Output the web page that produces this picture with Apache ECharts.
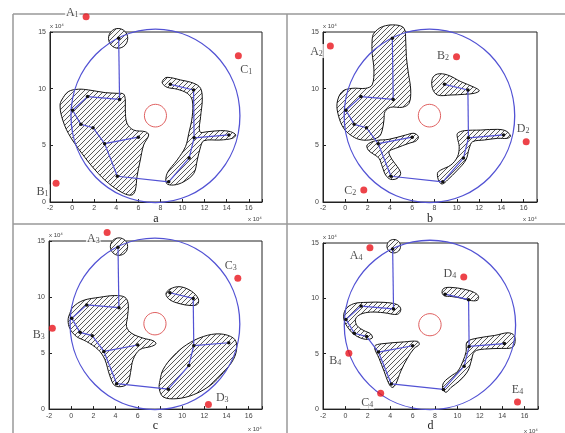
<!DOCTYPE html>
<html>
<head>
<meta charset="utf-8">
<script src="https://cdn.jsdelivr.net/npm/echarts@6/dist/echarts.min.js"></script>
<style>html,body{margin:0;padding:0;background:#fff}#main{width:565px;height:433px}</style>
</head>
<body>
<div id="main"></div>
<script>
// network nodes, same in all four panels
var nodes = [
    [4.22, 14.45], [4.3, 9.05], [1.4, 9.3], [0.05, 8.1], [0.8, 6.85], [1.9, 6.55],
    [2.95, 5.15], [6.0, 5.72], [4.1, 2.27], [8.75, 1.78], [10.6, 3.88], [11.05, 5.66],
    [14.2, 5.92], [8.9, 10.38], [11.0, 9.88]
];
var edges = [[0,1],[1,2],[2,3],[3,4],[4,5],[5,6],[6,7],[6,8],[8,9],[9,10],[10,11],[11,12],[11,14],[14,13]];
// big blue circle and small red circle : [cx, cy, r]
var bigCircle = [7.55, 7.6, 7.65];
var redCircle = [7.55, 7.62, 1.0];

// red points + names
var ptsA = [[1.27, 16.35], [-1.45, 1.65], [15.06, 12.9]];
var namesA = ['A1', 'B1', 'C1'];
var ptsB = [[-1.34, 13.76], [9.98, 12.82], [1.66, 1.06], [16.23, 5.32]];
var namesB = ['A2', 'B2', 'C2', 'D2'];
var ptsC = [[3.24, 15.76], [-1.7, 7.21], [15.02, 11.68], [12.37, 0.41]];
var namesC = ['A3', 'B3', 'C3', 'D3'];
var ptsD = [[2.19, 14.56], [0.31, 5.04], [3.15, 1.44], [10.57, 11.92], [15.37, 0.64]];
var namesD = ['A4', 'B4', 'C4', 'D4', 'E4'];

// hatched clusters (outlines)
var blobsA = [
    [[-0.94,9.0],[-0.34,9.74],[0.57,9.95],[1.48,9.89],[3.0,9.65],[4.06,9.59],[4.66,9.53],[4.82,9.0],[4.82,8.12],[4.97,6.95],[5.57,6.35],[6.64,6.2],[6.94,5.91],[6.48,5.03],[6.18,3.71],[5.88,2.23],[5.73,1.06],[5.43,0.62],[4.66,0.77],[3.3,1.65],[2.09,2.82],[0.88,4.3],[-0.34,6.06],[-0.94,7.53],[-1.09,8.56]],
    [[8.24,10.77],[8.61,11.0],[9.82,10.77],[11.03,10.47],[11.64,10.03],[11.79,9.0],[11.64,7.53],[11.57,6.2],[12.24,6.2],[13.45,6.3],[14.36,6.2],[14.82,5.91],[14.52,5.62],[13.45,5.47],[11.94,5.41],[11.64,4.88],[11.34,3.71],[11.03,2.53],[10.12,1.79],[9.21,1.5],[8.55,1.65],[8.61,2.53],[9.52,3.71],[10.27,4.88],[10.57,6.06],[10.88,7.53],[10.88,9.0],[10.43,9.59],[9.52,9.95],[8.61,10.12],[8.18,10.47]]
];
var ringsA = [[4.17, 14.44, 0.87]];
var blobsB = [
    [[2.57,14.89],[3.32,15.47],[4.52,15.62],[5.27,15.33],[5.42,14.3],[5.48,12.82],[5.66,11.36],[5.87,9.89],[5.72,8.71],[5.12,8.36],[4.07,8.36],[3.56,7.97],[3.47,7.24],[3.32,6.35],[3.02,5.76],[2.12,5.47],[1.22,5.53],[0.47,5.91],[-0.14,6.5],[-0.59,7.53],[-0.74,8.71],[-0.29,9.74],[0.61,10.03],[1.82,10.03],[2.41,10.33],[2.57,11.65],[2.41,13.12],[2.41,14.3]],
    [[1.96,5.03],[2.72,5.41],[3.92,5.53],[5.42,5.91],[6.17,6.06],[6.56,5.76],[6.38,5.41],[5.72,5.18],[4.52,4.74],[3.92,4.44],[4.22,3.71],[4.67,3.12],[4.97,2.53],[4.67,2.09],[4.07,2.0],[3.62,2.38],[3.32,3.12],[3.02,3.86],[2.41,4.3],[2.05,4.59]],
    [[7.82,10.91],[8.27,11.29],[9.17,11.21],[10.37,10.62],[11.57,10.12],[12.02,9.82],[11.57,9.59],[10.67,9.5],[9.47,9.44],[8.27,9.44],[7.82,10.03]],
    [[10.07,6.06],[10.67,6.29],[12.17,6.35],[13.68,6.41],[14.43,6.26],[14.82,5.82],[14.52,5.62],[13.68,5.62],[12.47,5.47],[11.42,5.32],[11.12,4.74],[10.82,3.71],[10.07,2.82],[9.17,1.94],[8.72,1.59],[8.42,1.79],[8.27,2.53],[8.57,2.82],[9.47,3.26],[10.07,4.0],[10.22,4.88],[10.07,5.62]]
];
var ringsB = [];
var blobsC = [
    [[-0.13,8.52],[0.17,9.11],[1.07,9.69],[2.58,9.98],[3.93,10.13],[4.84,9.98],[5.14,9.4],[5.08,8.23],[4.99,7.36],[5.44,6.77],[6.49,6.33],[7.4,6.1],[7.64,5.84],[7.25,5.6],[6.19,5.31],[5.59,4.44],[5.35,3.27],[5.14,2.39],[4.69,2.04],[3.93,2.1],[3.48,2.98],[3.03,4.44],[2.43,5.31],[1.37,6.04],[0.47,6.48],[-0.13,7.21],[-0.28,7.94]],
    [[8.54,10.27],[8.9,10.71],[9.81,10.92],[10.86,10.51],[11.46,9.84],[11.37,9.34],[10.71,9.25],[9.81,9.4],[8.9,9.75]],
    [[8.0,2.54],[8.3,3.56],[9.2,4.73],[10.41,5.75],[11.92,6.48],[13.42,6.71],[14.63,6.33],[14.93,5.6],[14.63,4.44],[13.72,3.27],[12.52,2.1],[11.01,1.28],[9.51,0.93],[8.3,1.08],[7.94,1.81]]
];
var ringsC = [[4.31, 14.5, 0.78]];
var blobsD = [
    [[0.01,9.0],[0.75,9.52],[1.95,9.64],[3.45,9.64],[4.65,9.43],[4.95,9.0],[4.65,8.56],[3.45,8.7],[2.25,8.76],[1.35,8.56],[0.9,8.12],[1.05,7.53],[1.65,7.09],[2.25,6.8],[2.4,6.42],[1.8,6.3],[0.9,6.65],[0.31,7.24],[-0.14,8.12]],
    [[2.7,5.77],[3.45,5.92],[5.25,6.07],[6.44,6.12],[6.59,5.83],[6.14,5.48],[5.54,4.6],[4.95,3.43],[4.5,2.26],[4.2,1.96],[3.9,2.26],[3.45,3.43],[3.0,4.6],[2.61,5.48]],
    [[8.78,10.9],[9.44,10.99],[10.63,10.82],[11.53,10.52],[11.89,10.17],[11.77,9.82],[11.08,9.82],[10.34,10.02],[9.44,10.17],[8.84,10.23],[8.63,10.52]],
    [[10.87,6.07],[11.83,6.42],[13.33,6.65],[14.53,6.89],[15.07,6.65],[15.13,5.92],[14.83,5.54],[13.93,5.48],[12.43,5.42],[11.53,5.19],[11.23,4.31],[10.93,3.43],[10.19,2.55],[9.44,1.96],[8.99,1.52],[8.69,1.82],[8.78,2.4],[9.44,2.99],[10.04,3.43],[10.49,4.31],[10.78,5.19]]
];
var ringsD = [[4.32, 14.71, 0.61]];

// label placement of the red points: [position, dx, dy]
var placeA = [['left',0,-5],['left',0,8],['bottom',8,0]];
var placeB = [['left',0,5],['left',0,-2],['left',0,0],['top',-3,0]];
var placeC = [['left',0,5],['left',0,6],['top',-7,0],['right',0,-8]];
var placeD = [['left',0,7],['left',0,7],['left',0,9],['left',0,-4],['top',0,0]];

var panels = [
    {grid: {left: 50, top: 32, width: 212, height: 170}, letter: 'a', gap: 8, pts: ptsA, names: namesA, place: placeA, blobs: blobsA, rings: ringsA},
    {grid: {left: 323, top: 32, width: 214, height: 170}, letter: 'b', gap: 9, pts: ptsB, names: namesB, place: placeB, blobs: blobsB, rings: ringsB},
    {grid: {left: 49, top: 241, width: 213, height: 171}, letter: 'c', gap: 10, pts: ptsC, names: namesC, place: placeC, blobs: blobsC, rings: ringsC},
    {grid: {left: 323, top: 243, width: 215, height: 171}, letter: 'd', gap: 10, pts: ptsD, names: namesD, place: placeD, blobs: blobsD, rings: ringsD}
];

var blue = '#5252d4';
var serif = 'Liberation Serif';

// diagonal hatch pattern
var hatch = (function () {
    var c = document.createElement('canvas');
    c.width = 5; c.height = 5;
    var g = c.getContext('2d');
    g.fillStyle = '#fafafa';
    g.fillRect(0, 0, 5, 5);
    g.strokeStyle = '#444';
    g.lineWidth = 0.9;
    g.beginPath();
    g.moveTo(0, 5); g.lineTo(5, 0);
    g.moveTo(-1, 1); g.lineTo(1, -1);
    g.moveTo(4, 6); g.lineTo(6, 4);
    g.stroke();
    return {image: c, repeat: 'repeat'};
})();

function ellipseItem(c, api, style) {
    var p = api.coord([c[0], c[1]]);
    var s = api.size([c[2], c[2]]);
    return {type: 'ellipse', shape: {cx: p[0], cy: p[1], rx: s[0], ry: s[1]}, style: style};
}

var grids = [], xAxes = [], yAxes = [], series = [], graphics = [];

panels.forEach(function (pn, i) {
    grids.push({left: pn.grid.left, top: pn.grid.top, width: pn.grid.width, height: pn.grid.height,
        show: true, borderColor: '#222', borderWidth: 1, containLabel: false});
    xAxes.push({
        gridIndex: i, type: 'value', min: -2, max: 17.2, interval: 2,
        name: pn.letter, nameLocation: 'middle', nameGap: pn.gap,
        nameTextStyle: {fontFamily: serif, fontSize: 12, color: '#222'},
        axisLine: {onZero: false, lineStyle: {color: '#222', width: 1}},
        axisTick: {inside: true, length: 3, lineStyle: {color: '#222'}},
        axisLabel: {fontSize: 7, color: '#444', margin: 3, fontFamily: 'Liberation Sans',
            formatter: function (v) { return v % 2 === 0 ? String(v) : ''; }},
        splitLine: {show: false}
    });
    yAxes.push({
        gridIndex: i, type: 'value', min: 0, max: 15, interval: 5,
        name: 'x 10\u2074', nameLocation: 'end', nameGap: 3,
        nameTextStyle: {fontSize: 6, color: '#444', align: 'left', fontFamily: 'Liberation Sans'},
        axisLine: {onZero: false, lineStyle: {color: '#222', width: 1}},
        axisTick: {inside: true, length: 3, lineStyle: {color: '#222'}},
        axisLabel: {fontSize: 7, color: '#444', margin: 4, fontFamily: 'Liberation Sans'},
        splitLine: {show: false}
    });
    // hatched clusters
    series.push({
        type: 'custom', xAxisIndex: i, yAxisIndex: i, z: 1, silent: true,
        data: pn.blobs.map(function (b, k) { return [k]; }),
        renderItem: function (params, api) {
            var pts = pn.blobs[params.dataIndex].map(function (p) { return api.coord(p); });
            return {type: 'polygon', shape: {points: pts, smooth: 0.35},
                style: {fill: hatch, stroke: '#151515', lineWidth: 1}};
        }
    });
    if (pn.rings.length) {
        series.push({
            type: 'custom', xAxisIndex: i, yAxisIndex: i, z: 1, silent: true,
            data: pn.rings,
            renderItem: function (params, api) {
                return ellipseItem(pn.rings[params.dataIndex], api, {fill: hatch, stroke: '#151515', lineWidth: 1});
            }
        });
    }
    // blue and red circles
    series.push({
        type: 'custom', xAxisIndex: i, yAxisIndex: i, z: 2, silent: true,
        data: [bigCircle, redCircle],
        renderItem: function (params, api) {
            var c = params.dataIndex === 0 ? bigCircle : redCircle;
            return ellipseItem(c, api, {fill: 'none', stroke: params.dataIndex === 0 ? blue : '#e06060',
                lineWidth: params.dataIndex === 0 ? 1.3 : 1});
        }
    });
    // network
    series.push({
        type: 'graph', coordinateSystem: 'cartesian2d', xAxisIndex: i, yAxisIndex: i, z: 3, silent: true,
        data: nodes.map(function (n) { return {value: n}; }),
        links: edges.map(function (e) { return {source: e[0], target: e[1]}; }),
        symbolSize: 3.5, itemStyle: {color: '#111'},
        lineStyle: {color: blue, width: 1.2, opacity: 1, curveness: 0}
    });
    // red points
    series.push({
        type: 'scatter', xAxisIndex: i, yAxisIndex: i, z: 5, clip: false, silent: true,
        symbolSize: 7, itemStyle: {color: '#e8141c'},
        data: pn.pts.map(function (p, k) {
            var pl = pn.place[k];
            return {value: p, name: pn.names[k],
                label: {position: pl[0], offset: [pl[1], pl[2]]}};
        }),
        label: {
            show: true, distance: 3, backgroundColor: '#fff', padding: [0, 1],
            formatter: function (d) { return '{m|' + d.name.charAt(0) + '}{s|' + d.name.slice(1) + '}'; },
            rich: {
                m: {fontFamily: serif, fontSize: 12, color: '#222', verticalAlign: 'bottom', lineHeight: 14},
                s: {fontFamily: serif, fontSize: 8, color: '#222', verticalAlign: 'bottom', lineHeight: 10}
            }
        }
    });
    // "x 10" note at the end of the x axis
    graphics.push({type: 'text', left: pn.grid.left + pn.grid.width - 14, top: pn.grid.top + pn.grid.height + 14,
        style: {text: 'x 10\u2074', fontSize: 6, fill: '#444', fontFamily: 'Liberation Sans'}});
});

// outer panel frames
var frame = {stroke: '#999', lineWidth: 1.5};
graphics.push({type: 'line', shape: {x1: 13, y1: 14, x2: 565, y2: 14}, style: frame});
graphics.push({type: 'line', shape: {x1: 13, y1: 14, x2: 13, y2: 433}, style: frame});
graphics.push({type: 'line', shape: {x1: 287, y1: 14, x2: 287, y2: 433}, style: frame});
graphics.push({type: 'line', shape: {x1: 13, y1: 224, x2: 565, y2: 224}, style: frame});

var chart = echarts.init(document.getElementById('main'));
chart.setOption({
    animation: false,
    backgroundColor: '#fff',
    grid: grids,
    xAxis: xAxes,
    yAxis: yAxes,
    series: series,
    graphic: graphics
});
</script>
</body>
</html>
